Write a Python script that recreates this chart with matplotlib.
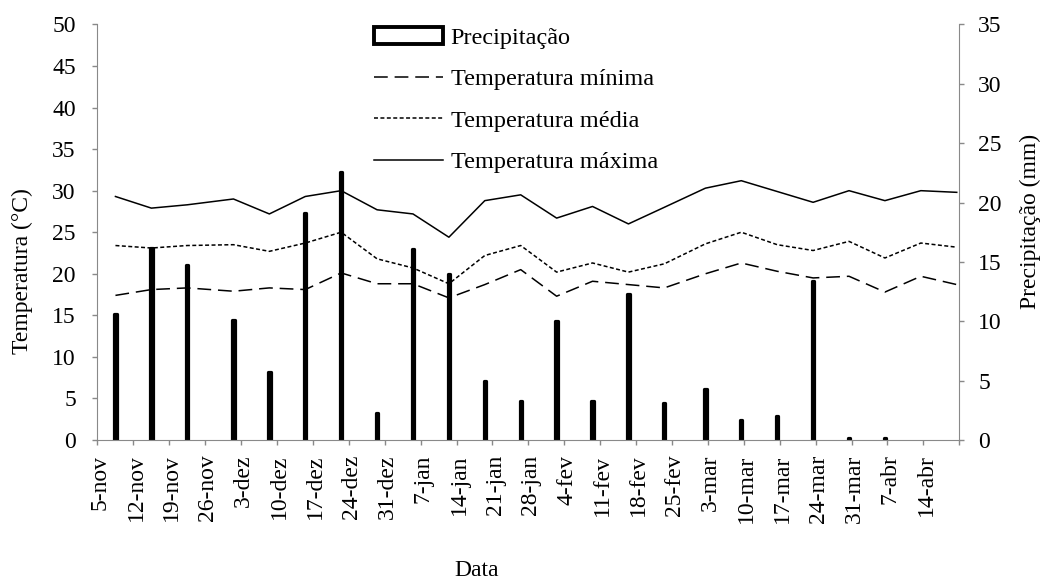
import numpy as np
import matplotlib
matplotlib.use('Agg')
import matplotlib.pyplot as plt
import matplotlib.patches as mpatches
from matplotlib.lines import Line2D

plt.rcParams['font.family'] = 'Liberation Serif'

# dias contados a partir de 5-nov (eixo de datas diario)
dia = [3, 10, 17, 26, 33, 40, 47, 54, 61, 68, 75, 82, 89, 96, 103, 110,
       118, 125, 132, 139, 146, 153, 160, 167]

t_max = [29.3, 27.9, 28.3, 29.0, 27.2, 29.3, 30.0, 27.7, 27.2, 24.4, 28.8, 29.5,
         26.7, 28.1, 26.0, 28.0, 30.3, 31.2, 29.9, 28.6, 30.0, 28.8, 30.0, 29.8]
t_med = [23.4, 23.1, 23.4, 23.5, 22.7, 23.7, 25.0, 21.8, 20.7, 18.8, 22.2, 23.4,
         20.2, 21.3, 20.2, 21.2, 23.6, 25.0, 23.5, 22.8, 23.9, 21.9, 23.7, 23.2]
t_min = [17.4, 18.1, 18.3, 17.9, 18.3, 18.1, 20.1, 18.8, 18.8, 17.1, 18.7, 20.5,
         17.3, 19.1, 18.7, 18.3, 20.0, 21.3, 20.3, 19.5, 19.7, 17.8, 19.7, 18.7]

# precipitacao (mm), sem registro nas duas ultimas semanas
prec = [10.6, 16.2, 14.7, 10.1, 5.7, 19.1, 22.6, 2.3, 16.1, 14.0, 5.0, 3.3,
        10.0, 3.3, 12.3, 3.1, 4.3, 1.7, 2.0, 13.4, 0.2, 0.2]

rotulos = ['5-nov', '12-nov', '19-nov', '26-nov', '3-dez', '10-dez', '17-dez',
           '24-dez', '31-dez', '7-jan', '14-jan', '21-jan', '28-jan', '4-fev',
           '11-fev', '18-fev', '25-fev', '3-mar', '10-mar', '17-mar', '24-mar',
           '31-mar', '7-abr', '14-abr']

fs = 17
cinza = '#898989'

fig = plt.figure(figsize=(10.45, 5.81), dpi=100)
ax = fig.add_axes([0.0933, 0.2427, 0.8247, 0.7152])
ax2 = ax.twinx()
ax.set_zorder(ax2.get_zorder() + 1)
ax.patch.set_visible(False)

x = np.array(dia) + 0.5
ax2.bar(x[:len(prec)], prec, width=0.45, color='white', edgecolor='black',
        linewidth=2.3, joinstyle='round')

ax.plot(x, t_min, color='black', lw=1.1, dashes=(9, 4.5))
ax.plot(x, t_med, color='black', lw=1.1, dashes=(2.6, 1.6))
ax.plot(x, t_max, color='black', lw=1.1)

ax.set_xlim(0, 168)
ax.set_ylim(0, 50)
ax2.set_ylim(0, 35)

ax.set_yticks(np.arange(0, 51, 5))
ax2.set_yticks(np.arange(0, 36, 5))
ax.set_xticks(np.arange(0, 169, 7))
ax.set_xticklabels([])
ax.set_xticks(np.arange(len(rotulos)) * 7 + 0.5, minor=True)
ax.set_xticklabels(rotulos, minor=True, rotation=90)

ax.tick_params(axis='y', direction='out', length=3.6, width=1, color=cinza,
               pad=12, labelsize=fs)
ax2.tick_params(axis='y', direction='out', length=3.6, width=1, color=cinza,
                pad=10, labelsize=fs)
ax.tick_params(axis='x', which='major', direction='out', length=3.6, width=1,
               color=cinza)
ax.tick_params(axis='x', which='minor', length=0, pad=10.5, labelsize=fs)

for s in ['top', 'right']:
    ax.spines[s].set_visible(False)
for s in ['left', 'bottom']:
    ax.spines[s].set_color(cinza)
for s in ['top', 'left', 'bottom']:
    ax2.spines[s].set_visible(False)
ax2.spines['right'].set_color(cinza)

ax.set_ylabel('Temperatura (°C)', fontsize=fs)
ax.yaxis.label.set_va('center')
ax.yaxis.set_label_coords(-0.0876, 0.407)
ax2.set_ylabel('Precipitação (mm)', fontsize=fs)
ax2.yaxis.label.set_va('center')
ax2.yaxis.set_label_coords(1.082, 0.527)
ax.set_xlabel('Data', fontsize=fs)
ax.xaxis.label.set_va('center')
ax.xaxis.set_label_coords(0.44, -0.315)

handles = [
    mpatches.Patch(facecolor='white', edgecolor='black', linewidth=2.8, joinstyle='round'),
    Line2D([], [], color='black', lw=1.1, dashes=(9, 4.5)),
    Line2D([], [], color='black', lw=1.1, dashes=(2.6, 1.6)),
    Line2D([], [], color='black', lw=1.1),
]
labels = ['Precipitação', 'Temperatura mínima', 'Temperatura média', 'Temperatura máxima']
ax.legend(handles, labels, loc='upper left', bbox_to_anchor=(374 / 1045, 1 - 27 / 581),
          bbox_transform=fig.transFigure, frameon=False, borderpad=0, borderaxespad=0,
          handlelength=2.85, handletextpad=0.3, labelspacing=0.8, fontsize=17.5)

fig.savefig('out.png', dpi=100)
